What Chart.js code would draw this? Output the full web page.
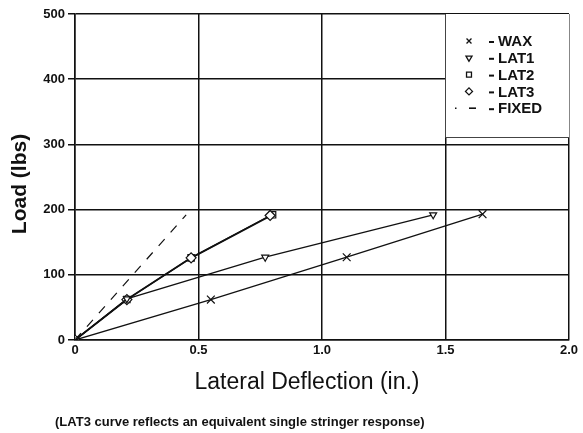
<!DOCTYPE html>
<html>
<head>
<meta charset="utf-8">
<script src="https://cdn.jsdelivr.net/npm/chart.js@4/dist/chart.umd.min.js"></script>
<style>
  html, body { margin: 0; padding: 0; background: #fff; }
  #wrap { width: 583px; height: 433px; }
</style>
</head>
<body>
<div id="wrap"><canvas id="chart" width="583" height="433"></canvas></div>
<script>
// values
const waxX   = [0, 0.55, 1.10, 1.65];
const waxY   = [0, 62, 127, 193];
const lat1X  = [0, 0.21, 0.77, 1.45];
const lat1Y  = [0, 63, 127, 192];
const lat2X  = [0, 0.21, 0.47, 0.80];
const lat2Y  = [0, 62, 126, 192];
const lat3X  = [0, 0.21, 0.47, 0.79];
const lat3Y  = [0, 62, 126, 191];
const fixedX = [0, 0.45];
const fixedY = [0, 192];

const xTicks = [0, 0.5, 1.0, 1.5, 2.0];
const xTickLabels = ['0', '0.5', '1.0', '1.5', '2.0'];
const yTicks = [0, 100, 200, 300, 400, 500];

const xTitle = 'Lateral Deflection (in.)';
const yTitle = 'Load (lbs)';
const caption = '(LAT3 curve reflects an equivalent single stringer response)';

const legendItems = [
  { label: 'WAX',   style: 'crossRot' },
  { label: 'LAT1',  style: 'triangle', rotation: 180 },
  { label: 'LAT2',  style: 'rect' },
  { label: 'LAT3',  style: 'rectRot' },
  { label: 'FIXED', style: 'dash' }
];

const pts = (xs, ys) => xs.map((x, i) => ({ x: x, y: ys[i] }));
const ink = '#111';
const fam = '"Liberation Sans", Arial, sans-serif';

// legend box, axis titles and the note under the chart
const extras = {
  id: 'extras',
  afterDraw(chart) {
    const ctx = chart.ctx;
    const a = chart.chartArea;
    ctx.save();

    // legend
    ctx.fillStyle = '#fff';
    ctx.fillRect(445, a.top, a.right - 445, 123);
    ctx.strokeStyle = '#444';
    ctx.lineWidth = 1;
    ctx.beginPath();
    ctx.moveTo(445.5, a.top);
    ctx.lineTo(445.5, a.top + 123.5);
    ctx.lineTo(a.right, a.top + 123.5);
    ctx.stroke();
    ctx.font = 'bold 15px ' + fam;
    ctx.textBaseline = 'middle';
    legendItems.forEach((it, i) => {
      const y = 41 + i * 16.8;
      ctx.strokeStyle = ink;
      ctx.fillStyle = '#fff';
      ctx.lineWidth = 1.3;
      if (it.style === 'dash') {
        ctx.fillStyle = ink;
        ctx.fillRect(455, y - 0.7, 1.5, 1.5);
        ctx.fillRect(469, y - 0.8, 7, 1.6);
      } else {
        Chart.helpers.drawPoint(ctx, {
          pointStyle: it.style, radius: 3.5,
          rotation: it.rotation || 0, borderWidth: 1.3
        }, 469, y);
      }
      ctx.fillStyle = ink;
      ctx.fillRect(489, y, 5, 2);
      ctx.fillText(it.label, 498, y + 1);
    });

    // y title
    ctx.fillStyle = ink;
    ctx.save();
    ctx.translate(20, 184);
    ctx.rotate(-Math.PI / 2);
    ctx.textAlign = 'center';
    ctx.textBaseline = 'middle';
    ctx.font = 'bold 21px ' + fam;
    ctx.fillText(yTitle, 0, 0);
    ctx.restore();

    // x title
    ctx.textAlign = 'center';
    ctx.textBaseline = 'alphabetic';
    ctx.font = '23px ' + fam;
    ctx.fillText(xTitle, 307, 389);

    // note
    ctx.textAlign = 'left';
    ctx.font = 'bold 13px ' + fam;
    ctx.fillText(caption, 55, 426);
    ctx.restore();
  }
};

const line = (label, data, style, extra) => Object.assign({
  label: label,
  data: data,
  showLine: true,
  borderColor: ink,
  backgroundColor: '#fff',
  borderWidth: 1.3,
  pointStyle: style,
  pointRadius: 5,
  pointBorderColor: ink,
  pointBorderWidth: 1.2,
  pointBackgroundColor: '#fff',
  tension: 0
}, extra || {});

new Chart(document.getElementById('chart'), {
  type: 'scatter',
  data: {
    datasets: [
      line('WAX', pts(waxX, waxY), 'crossRot', { pointRadius: 5.5 }),
      line('LAT1', pts(lat1X, lat1Y), 'triangle', { pointRotation: 180, pointRadius: 4 }),
      line('LAT3', pts(lat3X, lat3Y), 'rectRot', { pointRadius: 5 }),
      line('LAT2', pts(lat2X, lat2Y), 'rect', { pointRadius: 4.5, borderWidth: 1.8 }),
      line('FIXED', pts(fixedX, fixedY), false, { borderDash: [9, 9], pointRadius: 0, borderWidth: 1.2 })
    ]
  },
  plugins: [extras],
  options: {
    responsive: false,
    animation: false,
    layout: { padding: { left: 0, right: 14, top: 14, bottom: 0 } },
    plugins: {
      legend: { display: false },
      tooltip: { enabled: false }
    },
    scales: {
      x: {
        type: 'linear',
        min: 0, max: 2,
        afterBuildTicks: (s) => { s.ticks = xTicks.map(v => ({ value: v })); },
        afterFit: (s) => { s.height = 93; },
        ticks: {
          color: ink,
          padding: 3,
          font: { family: fam, size: 13, weight: 'bold' },
          callback: (v) => xTickLabels[xTicks.indexOf(v)]
        },
        grid: { color: ink, lineWidth: 1.5, drawTicks: false },
        border: { color: ink, width: 1.5 }
      },
      y: {
        min: 0, max: 500,
        afterBuildTicks: (s) => { s.ticks = yTicks.map(v => ({ value: v })); },
        afterFit: (s) => { s.width = 75; },
        ticks: {
          color: ink,
          padding: 3,
          font: { family: fam, size: 13, weight: 'bold' }
        },
        grid: { color: ink, lineWidth: 1.5, tickLength: 7 },
        border: { color: ink, width: 1.5 }
      }
    }
  }
});
</script>
</body>
</html>
